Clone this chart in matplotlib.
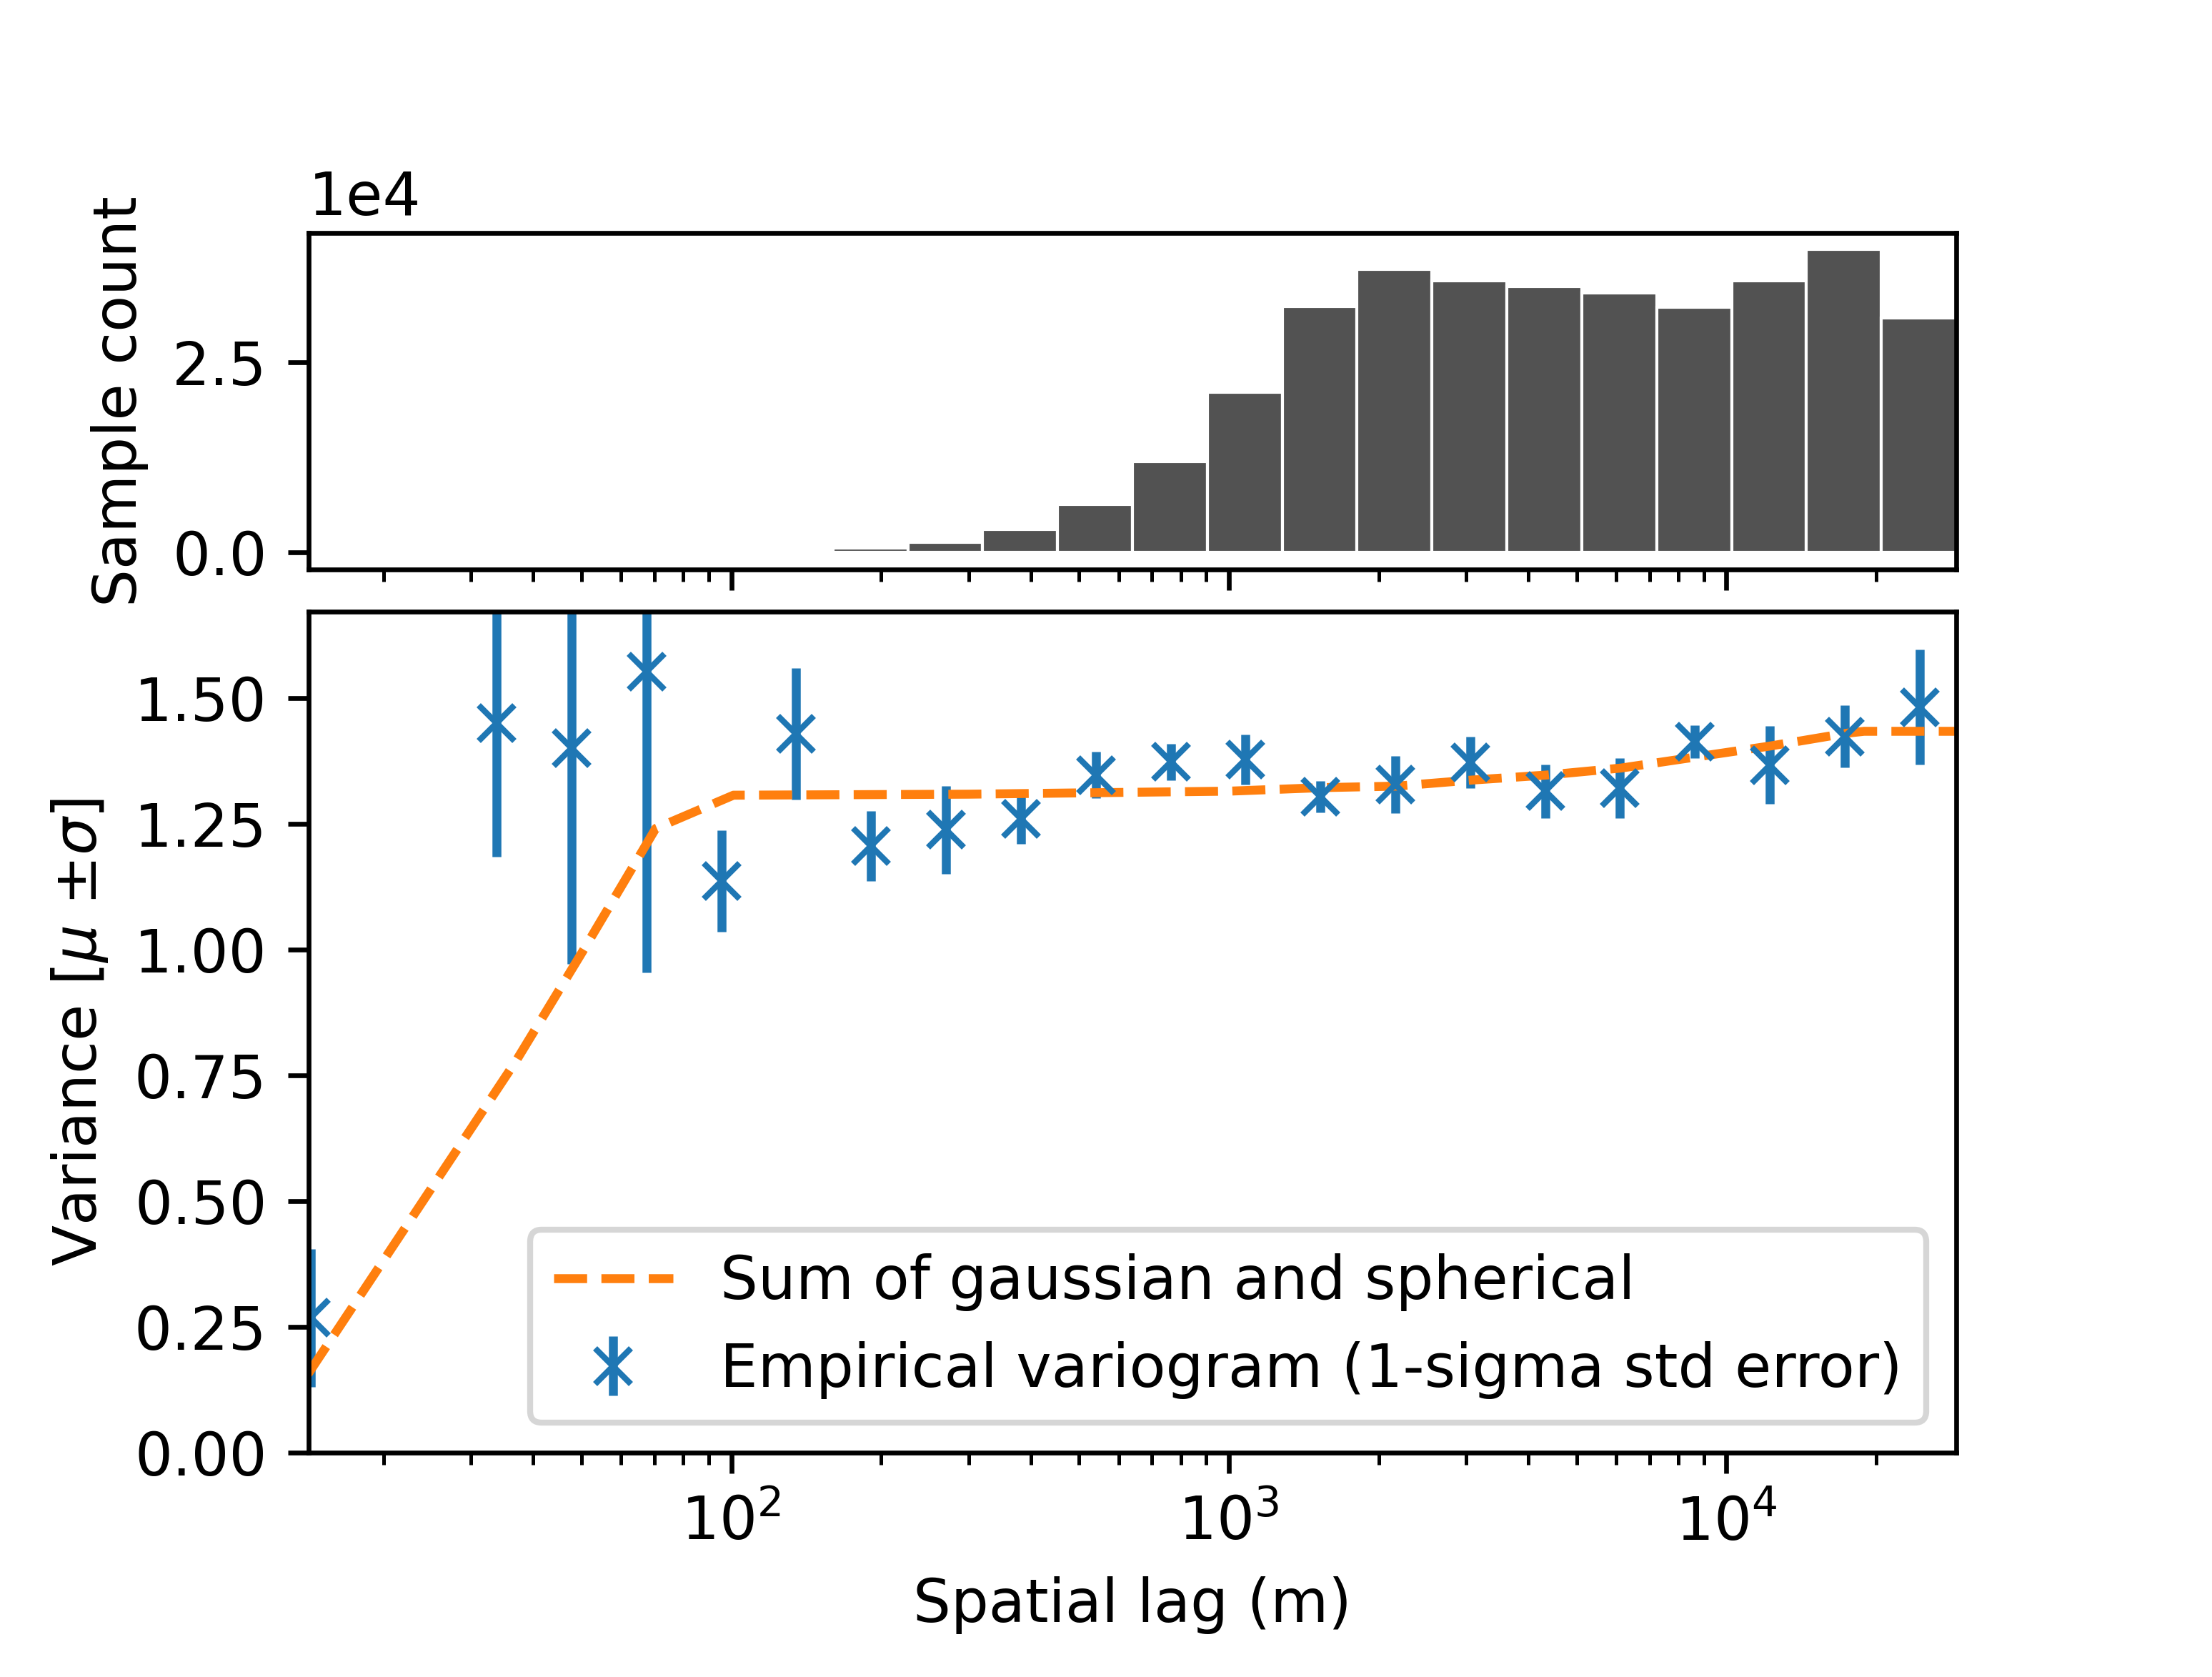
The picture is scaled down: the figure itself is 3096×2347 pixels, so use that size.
import numpy as np
import matplotlib
matplotlib.use("Agg")
import matplotlib.pyplot as plt

# histogram of pairwise samples per lag bin
bin_left = [160, 226.3, 320, 452.5, 640, 905.1, 1280, 1810, 2560, 3620, 5120, 7241, 10240, 14482, 20480]
bin_right = [226.3, 320, 452.5, 640, 905.1, 1280, 1810, 2560, 3620, 5120, 7241, 10240, 14482, 20480, 28963]
counts = [490, 1240, 2940, 6240, 11900, 21060, 32370, 37280, 35770, 35010, 34160, 32270, 35770, 39920, 30860]

# empirical variogram (bin centers, mean, 1-sigma error)
lags = [14.3, 33.7, 47.7, 67.5, 95.5, 135, 191, 270, 382, 540, 764, 1080, 1528, 2160,
        3055, 4320, 6110, 8640, 12220, 17280, 24440]
exp_var = [0.268, 1.450, 1.401, 1.552, 1.136, 1.429, 1.206, 1.238, 1.260, 1.347, 1.373,
           1.378, 1.304, 1.328, 1.372, 1.315, 1.321, 1.413, 1.367, 1.424, 1.482]
err_var = [0.137, 0.266, 0.43, 0.598, 0.101, 0.13, 0.07, 0.088, 0.05, 0.046, 0.036,
           0.05, 0.031, 0.057, 0.051, 0.053, 0.06, 0.033, 0.077, 0.062, 0.114]

# fitted model: sum of gaussian and spherical
model_x = [14.1, 37.0, 50.1, 70.5, 101, 300, 1000, 1536, 2172, 3072, 4345, 6144, 8689,
           12288, 17378, 18900, 28963]
model_y = [0.156, 0.78, 0.994, 1.241, 1.307, 1.309, 1.315, 1.322, 1.325, 1.337, 1.347,
           1.361, 1.383, 1.405, 1.430, 1.434, 1.434]

xmin, xmax = 14.14, 28963

fig = plt.figure(figsize=(5.16, 3.9117), dpi=600)
ax0 = fig.add_axes([0.1395, 0.6604, 0.7449, 0.2007])
ax1 = fig.add_axes([0.1395, 0.1338, 0.7449, 0.5015])

# top panel: sample count
widths = np.array(bin_right) - np.array(bin_left)
ax0.bar(bin_left, counts, width=widths, align='edge', color='#525252',
        edgecolor='white', linewidth=0.5)
ax0.set_xscale('log')
ax0.set_xlim(xmin, xmax)
ax0.set_ylim(-2310, 42080)
ax0.set_yticks([0, 25000])
ax0.ticklabel_format(axis='y', style='sci', scilimits=(0, 0))
ax0.set_ylabel('Sample count')
ax0.tick_params(axis='x', which='both', labelbottom=False)

# bottom panel: variogram
ax1.errorbar(lags, exp_var, yerr=err_var, fmt='x', color='C0',
             label='Empirical variogram (1-sigma std error)')
ax1.plot(model_x, model_y, '--', color='C1', label='Sum of gaussian and spherical')
ax1.set_xscale('log')
ax1.set_xlim(xmin, xmax)
ax1.set_ylim(0, 1.672)
ax1.set_yticks(np.arange(0, 1.51, 0.25))
ax1.set_xlabel('Spatial lag (m)')
ax1.set_ylabel(r'Variance [$\mu$ $\pm \sigma$]')
ax1.legend(loc='lower right')

fig.savefig('out.png', dpi=600)
